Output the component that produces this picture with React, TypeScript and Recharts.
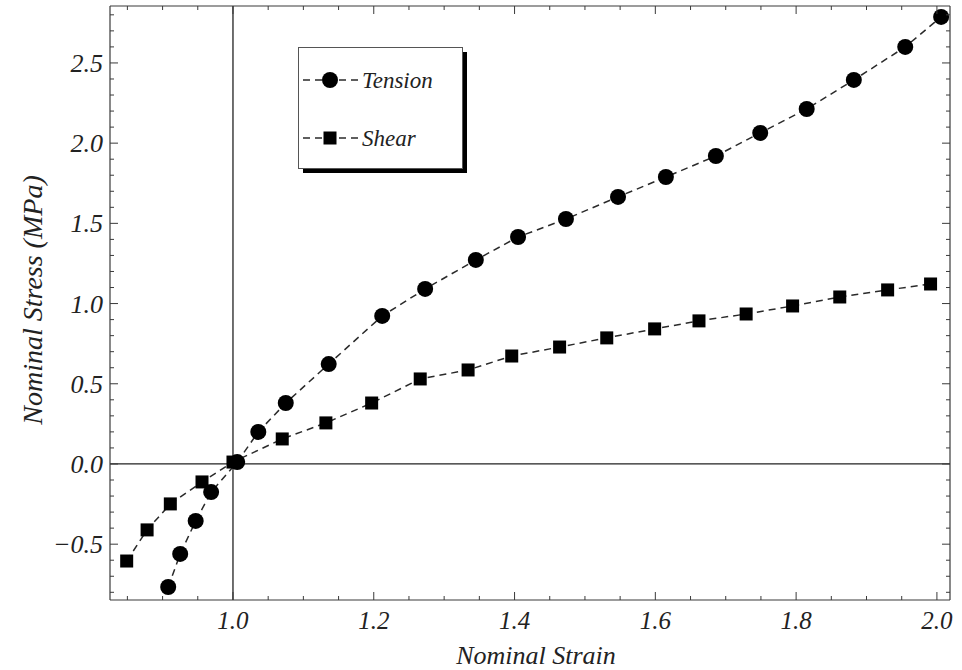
import React from 'react';
import { LineChart, Line, XAxis, YAxis, ReferenceLine, Legend } from 'recharts';

const tensionStrain = [0.908, 0.925, 0.947, 0.969, 1.006, 1.036, 1.075, 1.136, 1.212, 1.273, 1.345, 1.405, 1.473, 1.547, 1.615, 1.686, 1.749, 1.815, 1.882, 1.955, 2.006];
const tensionStress = [-0.767, -0.561, -0.355, -0.175, 0.012, 0.2, 0.38, 0.623, 0.923, 1.091, 1.272, 1.415, 1.527, 1.665, 1.789, 1.92, 2.064, 2.213, 2.394, 2.6, 2.787];
const shearStrain = [0.849, 0.878, 0.911, 0.956, 1.0, 1.07, 1.132, 1.197, 1.266, 1.334, 1.396, 1.464, 1.531, 1.599, 1.662, 1.729, 1.795, 1.862, 1.93, 1.991];
const shearStress = [-0.605, -0.411, -0.249, -0.112, 0.012, 0.156, 0.256, 0.38, 0.53, 0.586, 0.673, 0.729, 0.786, 0.842, 0.892, 0.935, 0.985, 1.041, 1.085, 1.122];

const xMajorTicks = [1.0, 1.2, 1.4, 1.6, 1.8, 2.0];
const yMajorTicks = [-0.5, 0.0, 0.5, 1.0, 1.5, 2.0, 2.5];
const xAllTicks = [0.85, 0.9, 0.95, 1.0, 1.05, 1.1, 1.15, 1.2, 1.25, 1.3, 1.35, 1.4, 1.45, 1.5, 1.55, 1.6, 1.65, 1.7, 1.75, 1.8, 1.85, 1.9, 1.95, 2.0];
const yAllTicks = [-0.8, -0.7, -0.6, -0.5, -0.4, -0.3, -0.2, -0.1, 0.0, 0.1, 0.2, 0.3, 0.4, 0.5, 0.6, 0.7, 0.8, 0.9, 1.0, 1.1, 1.2, 1.3, 1.4, 1.5, 1.6, 1.7, 1.8, 1.9, 2.0, 2.1, 2.2, 2.3, 2.4, 2.5, 2.6, 2.7, 2.8];

const seriesNames = ['Tension', 'Shear'];
const xTitle = 'Nominal Strain';
const yTitle = 'Nominal Stress (MPa)';

const tensionData = tensionStrain.map((x, i) => ({ x, y: tensionStress[i] }));
const shearData = shearStrain.map((x, i) => ({ x, y: shearStress[i] }));

const FONT = '"Liberation Serif", "DejaVu Serif", serif';
const AXIS_COLOR = '#3a3a3a';
const LINE_COLOR = '#2a2a2a';

const isMajor = (v: number, majors: number[]) => majors.some((m) => Math.abs(m - v) < 1e-6);

const fmt = (v: number) => (v < 0 ? '\u2212' + Math.abs(v).toFixed(1) : v.toFixed(1));

const BottomTick = (props: any) => {
  const { x, y, payload } = props;
  const major = isMajor(payload.value, xMajorTicks);
  return (
    <g>
      <line x1={x} x2={x} y1={y} y2={y - (major ? 8 : 4)} stroke={AXIS_COLOR} strokeWidth={1} />
      {major && (
        <text x={x} y={y + 29} textAnchor="middle" fontFamily={FONT} fontStyle="italic" fontSize={25} fill="#222">
          {fmt(payload.value)}
        </text>
      )}
    </g>
  );
};

const TopTick = (props: any) => {
  const { x, y, payload } = props;
  const major = isMajor(payload.value, xMajorTicks);
  return <line x1={x} x2={x} y1={y} y2={y + (major ? 8 : 4)} stroke={AXIS_COLOR} strokeWidth={1} />;
};

const LeftTick = (props: any) => {
  const { x, y, payload } = props;
  const major = isMajor(payload.value, yMajorTicks);
  return (
    <g>
      <line x1={x} x2={x + (major ? 8 : 4)} y1={y} y2={y} stroke={AXIS_COLOR} strokeWidth={1} />
      {major && (
        <text x={x - 7} y={y} dy="0.35em" textAnchor="end" fontFamily={FONT} fontStyle="italic" fontSize={26} fill="#222">
          {fmt(payload.value)}
        </text>
      )}
    </g>
  );
};

const RightTick = (props: any) => {
  const { x, y, payload } = props;
  const major = isMajor(payload.value, yMajorTicks);
  return <line x1={x} x2={x - (major ? 8 : 4)} y1={y} y2={y} stroke={AXIS_COLOR} strokeWidth={1} />;
};

const CircleDot = (props: any) => {
  const { cx, cy, index } = props;
  if (cx == null || cy == null) return <g key={index} />;
  return <circle key={index} cx={cx} cy={cy} r={8} fill="#000" />;
};

const SquareDot = (props: any) => {
  const { cx, cy, index } = props;
  if (cx == null || cy == null) return <g key={index} />;
  return <rect key={index} x={cx - 6.5} y={cy - 6.5} width={13} height={13} fill="#000" />;
};

const LegendBox = () => (
  <svg width={172} height={128} style={{ display: 'block' }}>
    <rect x={5} y={5} width={164} height={121} fill="#000" />
    <rect x={0.5} y={0.5} width={164} height={121} fill="#fff" stroke="#555" strokeWidth={1} />
    <line x1={5} x2={60} y1={33} y2={33} stroke={LINE_COLOR} strokeWidth={1.5} strokeDasharray="7 5" />
    <circle cx={32} cy={33} r={8} fill="#000" />
    <text x={64} y={33} dy="0.35em" fontFamily={FONT} fontStyle="italic" fontSize={23} fill="#222">
      {seriesNames[0]}
    </text>
    <line x1={5} x2={60} y1={91} y2={91} stroke={LINE_COLOR} strokeWidth={1.5} strokeDasharray="7 5" />
    <rect x={25.5} y={84.5} width={13} height={13} fill="#000" />
    <text x={64} y={91} dy="0.35em" fontFamily={FONT} fontStyle="italic" fontSize={23} fill="#222">
      {seriesNames[1]}
    </text>
  </svg>
);

const XTitle = () => (
  <text x={536} y={664} textAnchor="middle" fontFamily={FONT} fontStyle="italic" fontSize={26} fill="#222">
    {xTitle}
  </text>
);

const YTitle = () => (
  <text
    x={0}
    y={0}
    transform="translate(32,300) rotate(-90)"
    textAnchor="middle"
    dy="0.35em"
    fontFamily={FONT}
    fontStyle="italic"
    fontSize={28}
    fill="#222"
  >
    {yTitle}
  </text>
);

export default function App() {
  return (
    <div style={{ position: 'absolute', left: 0, top: 0, width: 962, height: 670, background: '#fff' }}>
      <LineChart width={962} height={670} margin={{ top: 5, right: 0, bottom: 0, left: 0 }}>
        <XAxis
          xAxisId="b"
          type="number"
          dataKey="x"
          orientation="bottom"
          domain={[0.8253, 2.0186]}
          allowDataOverflow
          ticks={xAllTicks}
          interval={0}
          tickSize={0}
          tickMargin={0}
          tickLine={false}
          tick={<BottomTick />}
          height={70}
          axisLine={{ stroke: AXIS_COLOR, strokeWidth: 1.2 }}
          label={<XTitle />}
        />
        <XAxis
          xAxisId="t"
          type="number"
          dataKey="x"
          orientation="top"
          domain={[0.8253, 2.0186]}
          allowDataOverflow
          ticks={xAllTicks}
          interval={0}
          tickSize={0}
          tickMargin={0}
          tickLine={false}
          tick={<TopTick />}
          height={1}
          axisLine={{ stroke: AXIS_COLOR, strokeWidth: 1.2 }}
        />
        <YAxis
          yAxisId="l"
          type="number"
          orientation="left"
          domain={[-0.848, 2.855]}
          allowDataOverflow
          ticks={yAllTicks}
          interval={0}
          tickSize={0}
          tickMargin={0}
          tickLine={false}
          tick={<LeftTick />}
          width={110}
          axisLine={{ stroke: AXIS_COLOR, strokeWidth: 1.2 }}
          label={<YTitle />}
        />
        <YAxis
          yAxisId="r"
          type="number"
          orientation="right"
          domain={[-0.848, 2.855]}
          allowDataOverflow
          ticks={yAllTicks}
          interval={0}
          tickSize={0}
          tickMargin={0}
          tickLine={false}
          tick={<RightTick />}
          width={12}
          axisLine={{ stroke: AXIS_COLOR, strokeWidth: 1.2 }}
        />
        <ReferenceLine xAxisId="b" yAxisId="l" x={1} stroke="#222" strokeWidth={1.3} />
        <ReferenceLine xAxisId="b" yAxisId="l" y={0} stroke="#222" strokeWidth={1.3} />
        <Line
          xAxisId="b"
          yAxisId="l"
          data={tensionData}
          dataKey="y"
          name={seriesNames[0]}
          type="linear"
          stroke={LINE_COLOR}
          strokeWidth={1.5}
          strokeDasharray="7 5"
          dot={<CircleDot />}
          activeDot={false}
          isAnimationActive={false}
        />
        <Line
          xAxisId="b"
          yAxisId="l"
          data={shearData}
          dataKey="y"
          name={seriesNames[1]}
          type="linear"
          stroke={LINE_COLOR}
          strokeWidth={1.5}
          strokeDasharray="7 5"
          dot={<SquareDot />}
          activeDot={false}
          isAnimationActive={false}
        />
        <Legend
          layout="vertical"
          align="center"
          verticalAlign="middle"
          content={<LegendBox />}
          wrapperStyle={{ left: 298, top: 47, width: 172, height: 128 }}
        />
      </LineChart>
    </div>
  );
}
